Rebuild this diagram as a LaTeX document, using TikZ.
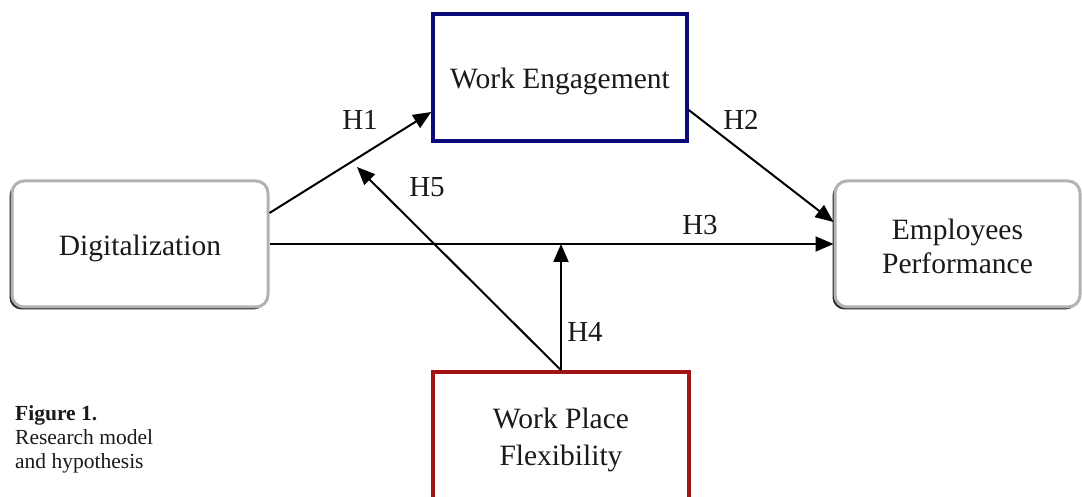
\documentclass[tikz,border=0pt]{standalone}
\usepackage{fontspec}
\setmainfont{Liberation Serif}
\usetikzlibrary{arrows.meta,calc,shadows}

\definecolor{navybox}{RGB}{10,10,120}
\definecolor{redbox}{RGB}{160,20,20}
\definecolor{textdark}{RGB}{25,25,30}

% lower a label's ink without changing its reported size
\newcommand{\dropby}[2]{\raisebox{-#1}[\height][\depth]{#2}}

\tikzset{
  softbox/.style={rounded corners=12pt, draw=gray!60, line width=3pt, fill=white,
    drop shadow={shadow xshift=-2.5pt, shadow yshift=-2.5pt, fill=gray!30!black, opacity=1},
    align=center, font=\fontsize{29.5}{34}\selectfont, text=textdark, inner sep=0pt},
  plainbox/.style={draw, line width=3.5pt, fill=white, align=center,
    font=\fontsize{29.5}{37}\selectfont, text=textdark, inner sep=0pt},
  link/.style={line width=2pt, -{Triangle[length=18pt,width=15pt]}},
  hlabel/.style={font=\fontsize{29}{34}\selectfont, text=textdark, inner sep=0pt},
}

\begin{document}
\begin{tikzpicture}[x=1pt,y=1pt]
  \useasboundingbox (0,0) rectangle (1082,497);
  \begin{scope}
    \clip (0,0) rectangle (1082,497);

    % constructs
    \node[softbox, minimum width=256pt, minimum height=126pt] (dig) at (140,253) {\dropby{4pt}{Digitalization}};
    \node[softbox, minimum width=245pt, minimum height=126pt] (ep) at (957.5,253) {\dropby{2.5pt}{Employees}\\\dropby{2.5pt}{Performance}};
    \node[plainbox, draw=navybox, minimum width=254pt, minimum height=127pt] (we) at (560,419.5) {\dropby{4pt}{Work Engagement}};
    \node[plainbox, draw=redbox, minimum width=256pt, minimum height=138pt, text depth=0pt] (wpf) at (561,56) {};
    \node[font=\fontsize{29.5}{37}\selectfont, text=textdark, align=center] (wpftext) at (561,57) {Work Place\\Flexibility};

    % hypothesised paths
    \coordinate (h4tip) at ($(dig.east)!(wpf.north)!(ep.west)$);
    \coordinate (h5tip) at (357,330);
    \draw[link] ($(dig.east)+(0,31)$) -- ($(we.west)+(0,-34.5)$);
    \draw[link] ($(we.east)+(0,-32.5)$) -- ($(ep.west)+(0,22)$);
    \draw[link] (dig.east) -- (ep.west);
    \draw[link] (wpf.north) -- (h4tip);
    \draw[link] (wpf.north) -- (h5tip);

    % path labels
    \node[hlabel] (lh1) at (360,377) {H1};
    \node[hlabel] (lh2) at (741,377) {H2};
    \node[hlabel] (lh3) at (700,272) {H3};
    \node[hlabel] (lh4) at (585,165) {H4};
    \node[hlabel] (lh5) at (427,310) {H5};

    % caption
    \node[anchor=north west, align=left, inner sep=0pt, text=textdark,
          font=\fontsize{21.5}{24}\selectfont] (cap) at (15,92)
      {\textbf{Figure 1.}\\Research model\\and hypothesis};
  \end{scope}
\end{tikzpicture}
\end{document}
